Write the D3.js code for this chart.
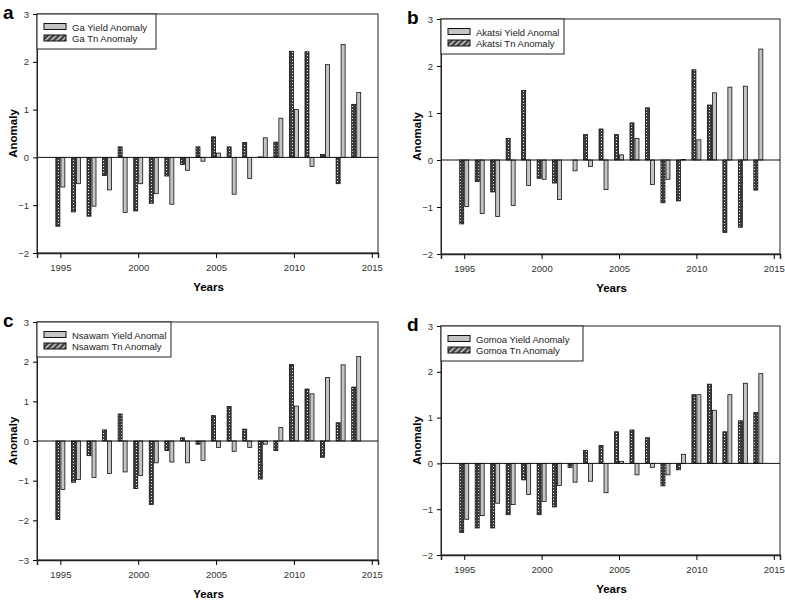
<!DOCTYPE html>
<html>
<head>
<meta charset="utf-8">
<script src="https://cdn.jsdelivr.net/npm/d3@7"></script>
<style>
  body { margin: 0; background: #fff; }
  svg { display: block; }
  text { font-family: "Liberation Sans", Arial, sans-serif; }
</style>
</head>
<body>
<svg id="chart" width="785" height="604"></svg>
<script>
const years = [1995,1996,1997,1998,1999,2000,2001,2002,2003,2004,2005,2006,2007,2008,2009,2010,2011,2012,2013,2014];
const xTicks = [1995, 2000, 2005, 2010, 2015];

const gaYield = [-0.62,-0.55,-1.02,-0.68,-1.15,-0.55,-0.76,-0.98,-0.27,-0.08,0.09,-0.77,-0.44,0.41,0.82,1.00,-0.19,1.94,2.36,1.36];
const gaTn    = [-1.44,-1.14,-1.23,-0.38,0.22,-1.12,-0.96,-0.39,-0.15,0.22,0.43,0.22,0.31,0.01,0.32,2.22,2.21,0.06,-0.55,1.11];

const akYield = [-0.99,-1.14,-1.20,-0.97,-0.54,-0.41,-0.84,-0.23,-0.14,-0.63,0.11,0.46,-0.52,-0.41,0.01,0.43,1.43,1.55,1.57,2.36];
const akTn    = [-1.36,-0.46,-0.68,0.46,1.48,-0.39,-0.49,0.00,0.54,0.66,0.54,0.79,1.11,-0.91,-0.87,1.92,1.17,-1.54,-1.43,-0.64];

const nsYield = [-1.22,-0.97,-0.92,-0.82,-0.78,-0.87,-0.55,-0.53,-0.55,-0.49,-0.16,-0.26,-0.16,-0.08,0.34,0.88,1.19,1.60,1.92,2.13];
const nsTn    = [-1.98,-1.04,-0.37,0.28,0.68,-1.20,-1.60,-0.24,0.08,-0.08,0.64,0.87,0.30,-0.96,-0.24,1.93,1.31,-0.41,0.46,1.36];

const gmYield = [-1.22,-1.14,-0.87,-0.90,-0.68,-0.83,-0.48,-0.41,-0.39,-0.64,0.04,-0.25,-0.09,-0.25,0.20,1.50,1.16,1.50,1.75,1.96];
const gmTn    = [-1.51,-1.41,-1.41,-1.12,-0.36,-1.12,-0.95,-0.09,0.28,0.39,0.69,0.73,0.56,-0.49,-0.14,1.50,1.73,0.69,0.93,1.11];

const panels = [
  { id: "a", yieldName: "Ga Yield Anomaly", tnName: "Ga Tn Anomaly", yieldVals: gaYield, tnVals: gaTn,
    left: 37, right: 378, top: 14, bottom: 253, yDomain: [-2, 3], yTicks: [-2,-1,0,1,2,3], legendW: 119 },
  { id: "b", yieldName: "Akatsi Yield Anomal", tnName: "Akatsi Tn Anomaly", yieldVals: akYield, tnVals: akTn,
    left: 441, right: 780, top: 19, bottom: 254, yDomain: [-2, 3], yTicks: [-2,-1,0,1,2,3], legendW: 123 },
  { id: "c", yieldName: "Nsawam Yield Anomal", tnName: "Nsawam Tn Anomaly", yieldVals: nsYield, tnVals: nsTn,
    left: 37, right: 378, top: 322, bottom: 560, yDomain: [-3, 3], yTicks: [-3,-2,-1,0,1,2,3], legendW: 134 },
  { id: "d", yieldName: "Gomoa Yield Anomaly", tnName: "Gomoa Tn Anomaly", yieldVals: gmYield, tnVals: gmTn,
    left: 441, right: 780, top: 326, bottom: 555, yDomain: [-2, 3], yTicks: [-2,-1,0,1,2,3], legendW: 142 }
];

const svg = d3.select("#chart");
const defs = svg.append("defs");
const pat = defs.append("pattern").attr("id", "hatch").attr("patternUnits", "userSpaceOnUse")
  .attr("width", 3).attr("height", 3);
pat.append("rect").attr("width", 3).attr("height", 3).attr("fill", "#3c3c3c");
pat.append("rect").attr("x", 1).attr("y", 1).attr("width", 1).attr("height", 1).attr("fill", "#e8e8e8");

const pat2 = defs.append("pattern").attr("id", "stripes").attr("patternUnits", "userSpaceOnUse")
  .attr("width", 4).attr("height", 4).attr("patternTransform", "rotate(45)");
pat2.append("rect").attr("width", 4).attr("height", 4).attr("fill", "#444");
pat2.append("rect").attr("width", 1.3).attr("height", 4).attr("fill", "#ddd");

const barW = 4;
const yieldFill = "#c4c4c4";

panels.forEach(p => {
  const x = d3.scaleLinear().domain([1993.5, 2015.4]).range([p.left, p.right]);
  const y = d3.scaleLinear().domain(p.yDomain).range([p.bottom, p.top]);
  const g = svg.append("g");

  // frame
  g.append("rect").attr("x", p.left).attr("y", p.top)
    .attr("width", p.right - p.left).attr("height", p.bottom - p.top)
    .attr("fill", "none").attr("stroke", "#222").attr("stroke-width", 1);

  // bars
  const data = years.map((yr, i) => ({ yr, yv: p.yieldVals[i], tv: p.tnVals[i] }));
  g.selectAll(".tn").data(data).enter().append("rect")
    .attr("x", d => x(d.yr) - barW - 0.5)
    .attr("y", d => y(Math.max(0, d.tv)))
    .attr("width", barW)
    .attr("height", d => Math.abs(y(d.tv) - y(0)))
    .attr("fill", "url(#hatch)").attr("stroke", "#111").attr("stroke-width", 0.8);
  g.selectAll(".yl").data(data).enter().append("rect")
    .attr("x", d => x(d.yr) + 0.5)
    .attr("y", d => y(Math.max(0, d.yv)))
    .attr("width", barW)
    .attr("height", d => Math.abs(y(d.yv) - y(0)))
    .attr("fill", yieldFill).attr("stroke", "#111").attr("stroke-width", 0.8);

  // zero line
  g.append("line").attr("x1", p.left).attr("x2", p.right)
    .attr("y1", y(0)).attr("y2", y(0)).attr("stroke", "#111").attr("stroke-width", 1);

  // y axis
  const ya = d3.axisLeft(y).tickValues(p.yTicks).tickSize(4).tickPadding(4).tickFormat(d3.format("d"));
  const yg = g.append("g").attr("transform", `translate(${p.left},0)`).call(ya);
  yg.select(".domain").attr("stroke", "#222");
  yg.selectAll("text").attr("font-size", 9.5).attr("fill", "#333").attr("font-family", "Liberation Sans, Arial, sans-serif");

  // x axis
  const xa = d3.axisBottom(x).tickValues(xTicks).tickSize(5).tickPadding(6).tickFormat(d3.format("d"));
  const xg = g.append("g").attr("transform", `translate(0,${p.bottom})`).call(xa);
  xg.select(".domain").attr("stroke", "#222").attr("stroke-width", 1.5);
  xg.selectAll("text").attr("font-size", 9.5).attr("fill", "#333").attr("font-family", "Liberation Sans, Arial, sans-serif");

  // axis titles
  g.append("text").attr("x", (p.left + p.right) / 2 + 1).attr("y", p.bottom + 38)
    .attr("text-anchor", "middle").attr("font-weight", "bold").attr("font-size", 11.5).text("Years");
  g.append("text").attr("transform", `translate(${p.left - 20},${(p.top + p.bottom) / 2}) rotate(-90)`)
    .attr("text-anchor", "middle").attr("font-weight", "bold").attr("font-size", 11.5).text("Anomaly");

  // panel label
  g.append("text").attr("x", p.left - 34).attr("y", p.top + 5)
    .attr("font-weight", "bold").attr("font-size", 19).text(p.id);

  // legend
  const lg = g.append("g").attr("transform", `translate(${p.left},${p.top})`);
  lg.append("rect").attr("x", 0).attr("y", 0).attr("width", p.legendW).attr("height", 35)
    .attr("fill", "#fff").attr("stroke", "#222").attr("stroke-width", 1);
  lg.append("rect").attr("x", 7).attr("y", 9.5).attr("width", 22).attr("height", 6)
    .attr("fill", yieldFill).attr("stroke", "#111").attr("stroke-width", 1);
  lg.append("rect").attr("x", 7).attr("y", 21).attr("width", 22).attr("height", 6)
    .attr("fill", "url(#stripes)").attr("stroke", "#111").attr("stroke-width", 1);
  lg.append("text").attr("x", 35).attr("y", 16.5).attr("font-size", 9.5).attr("fill", "#222").text(p.yieldName);
  lg.append("text").attr("x", 35).attr("y", 28).attr("font-size", 9.5).attr("fill", "#222").text(p.tnName);
});
</script>
</body>
</html>
